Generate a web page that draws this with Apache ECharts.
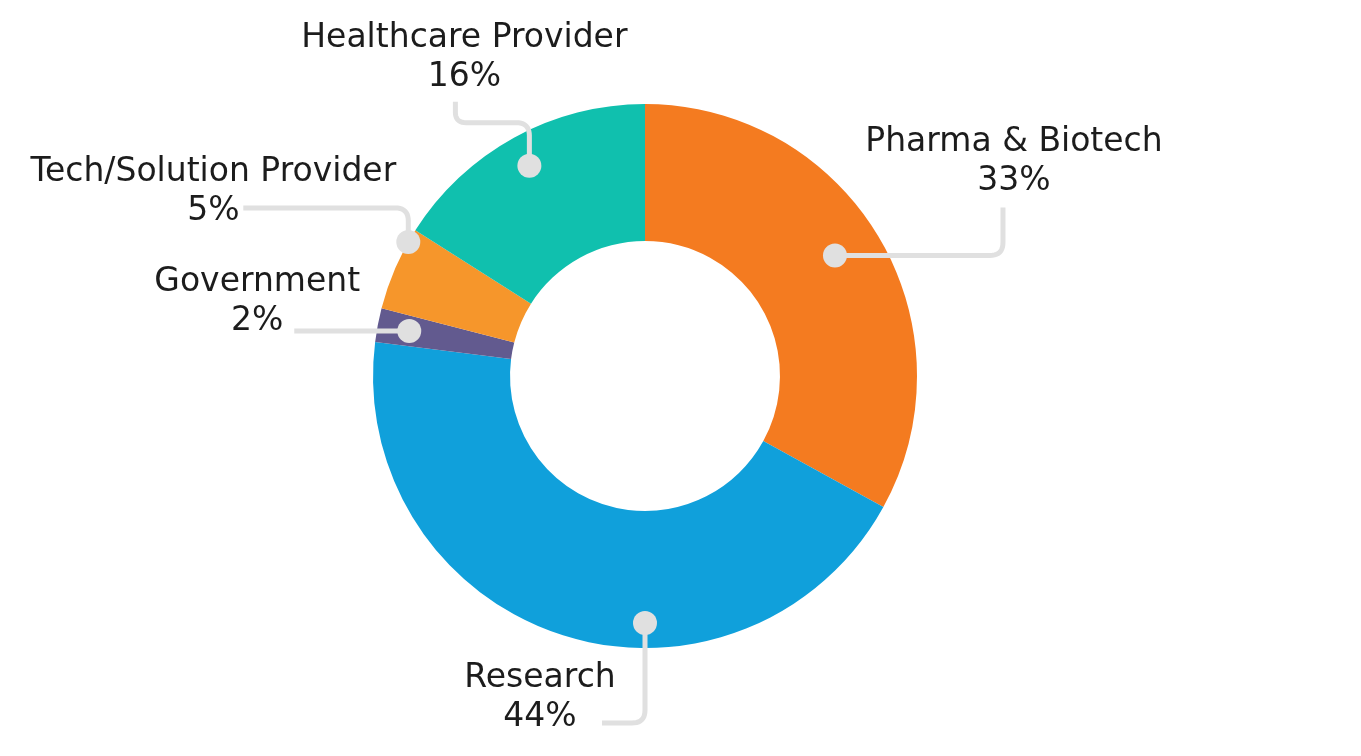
<!DOCTYPE html>
<html><head><meta charset="utf-8">
<script src="https://cdn.jsdelivr.net/npm/echarts@6/dist/echarts.min.js"></script>
<style>html,body{margin:0;padding:0;background:#fff}#c{width:1361px;height:756px}</style>
</head><body><div id="c"></div>
<script>
// ---- data ----
const categories = ['Pharma & Biotech', 'Research', 'Government', 'Tech/Solution Provider', 'Healthcare Provider'];
const shares = [33, 44, 2, 5, 16];
const colors = ['#F47B20', '#10A0DB', '#625A8F', '#F6962B', '#10C0AE'];

// ---- layout choices (not data) ----
const dotShift = [-0.5, -5, 0, 1.7, 0];      // shift of the leader dot along the ring, % of circle
const dotRadius = [225, 247, 240, 272, 240];  // radius of the leader dot, px
const routes = [
  [['h', 168], ['v', -48]],
  [['v', 100], ['h', -43]],
  [['h', -115]],
  [['v', -34], ['h', -165]],
  [['v', -43], ['h', -74], ['v', -21]]
];
const labelOffsets = [[11, -7], [-62, 14], [-37, 10], [-30, 23], [9, -5]];

const CENTER = [645, 376];
const R_IN = 135, R_OUT = 272;

const total = shares.reduce((a, b) => a + b, 0);
let acc = 0;
const dotData = shares.map((v, i) => {
  const mid = acc + v / 2; acc += v;
  return { name: categories[i], value: [dotRadius[i], mid / total * 100 + dotShift[i]] };
});

function routePoints(start, segs, r) {
  const pts = [start.slice()];
  let cur = start.slice();
  segs.forEach(([d, len]) => {
    cur = d === 'h' ? [cur[0] + len, cur[1]] : [cur[0], cur[1] + len];
    pts.push(cur.slice());
  });
  const out = [pts[0]];
  for (let i = 1; i < pts.length - 1; i++) {
    const p0 = pts[i - 1], p1 = pts[i], p2 = pts[i + 1];
    const l1 = Math.hypot(p1[0] - p0[0], p1[1] - p0[1]);
    const l2 = Math.hypot(p2[0] - p1[0], p2[1] - p1[1]);
    const d1 = [(p1[0] - p0[0]) / l1, (p1[1] - p0[1]) / l1];
    const d2 = [(p2[0] - p1[0]) / l2, (p2[1] - p1[1]) / l2];
    const rr = Math.min(r, l1 / 2, l2 / 2);
    const a = [p1[0] - d1[0] * rr, p1[1] - d1[1] * rr];
    const b = [p1[0] + d2[0] * rr, p1[1] + d2[1] * rr];
    for (let k = 0; k <= 10; k++) {
      const t = k / 10, u = 1 - t;
      out.push([u * u * a[0] + 2 * u * t * p1[0] + t * t * b[0],
                u * u * a[1] + 2 * u * t * p1[1] + t * t * b[1]]);
    }
  }
  out.push(pts[pts.length - 1]);
  return { points: out, end: pts[pts.length - 1] };
}

const chart = echarts.init(document.getElementById('c'), null, { renderer: 'canvas' });

function dotPixel(i) {
  let p = null;
  try { p = chart.convertToPixel({ seriesIndex: 2 }, dotData[i].value); } catch (e) { p = null; }
  if (!p || isNaN(p[0])) {
    const a = dotData[i].value[1] / 100 * 2 * Math.PI;
    const r = dotData[i].value[0];
    p = [CENTER[0] + r * Math.sin(a), CENTER[1] - r * Math.cos(a)];
  }
  return p;
}

const FONT = 'DejaVu Sans';
chart.setOption({
  animation: false,
  backgroundColor: '#ffffff',
  polar: { center: CENTER, radius: [0, R_OUT] },
  angleAxis: { type: 'value', min: 0, max: 100, startAngle: 90, clockwise: true, show: false },
  radiusAxis: { type: 'value', min: 0, max: R_OUT, show: false },
  series: [
    {
      type: 'pie',
      center: CENTER,
      radius: [R_IN, R_OUT],
      startAngle: 90,
      clockwise: true,
      silent: true,
      z: 1,
      label: { show: false },
      labelLine: { show: false },
      itemStyle: { borderWidth: 0 },
      data: categories.map((c, i) => ({ name: c, value: shares[i], itemStyle: { color: colors[i] } }))
    },
    {
      // transparent copy of the ring that carries the labels and leader lines
      type: 'pie',
      center: CENTER,
      radius: [R_IN, R_OUT],
      startAngle: 90,
      clockwise: true,
      silent: true,
      z: 3,
      avoidLabelOverlap: false,
      itemStyle: { color: 'rgba(0,0,0,0)', borderWidth: 0 },
      label: {
        show: true,
        position: 'outside',
        align: 'center',
        formatter: '{b}\n{c}%',
        fontFamily: FONT,
        fontSize: 33,
        lineHeight: 39,
        color: '#1c1c1c'
      },
      labelLine: { show: true, smooth: false, length: 10, length2: 10, lineStyle: { color: '#E0E0E0', width: 5 } },
      labelLayout: function (params) {
        const i = params.dataIndex;
        const c = dotPixel(i);
        const r = routePoints(c, routes[i], 13);
        return {
          x: r.end[0] + labelOffsets[i][0],
          y: r.end[1] + labelOffsets[i][1],
          align: 'center',
          verticalAlign: 'bottom',
          labelLinePoints: r.points
        };
      },
      data: categories.map((c, i) => ({ name: c, value: shares[i] }))
    },
    {
      type: 'scatter',
      coordinateSystem: 'polar',
      silent: true,
      z: 10,
      symbol: 'circle',
      symbolSize: 24,
      itemStyle: { color: '#E0E0E0', opacity: 1 },
      label: { show: false },
      data: dotData
    }
  ]
});
</script>
</body></html>
